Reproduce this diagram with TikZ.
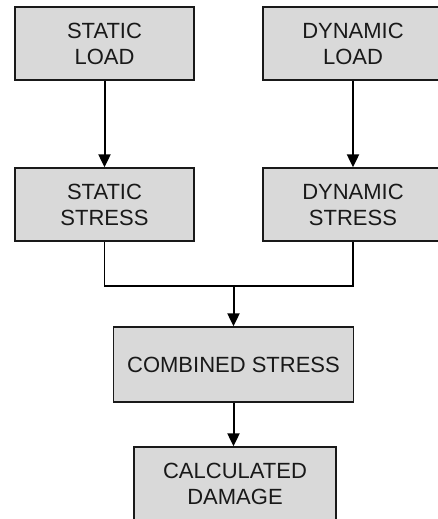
\documentclass[tikz,border=0pt]{standalone}
\usepackage{fontspec}
\setmainfont{Liberation Sans}
\usetikzlibrary{arrows.meta}
\definecolor{boxfill}{HTML}{D9D9D9}
\begin{document}
\begin{tikzpicture}[x=1pt,y=-1pt,
  blk/.style={draw=black!90, line width=1.3pt, fill=boxfill, inner sep=0pt,
    align=center, font=\fontsize{22}{26}\selectfont, text=black!90},
  arr/.style={line width=2pt, -{Triangle[length=13pt,width=12pt]}},
  link/.style={line width=1.2pt}]
\clip (0,0) rectangle (438,519);
\useasboundingbox (0,0) rectangle (438,519);
\node[blk, minimum width=179pt, minimum height=73pt] (sl) at (104.5,43.5) {STATIC\\LOAD};
\node[blk, minimum width=180pt, minimum height=73pt] (dl) at (353,43.5) {DYNAMIC\\LOAD};
\node[blk, minimum width=179pt, minimum height=73pt] (ss) at (104.5,204.5) {STATIC\\STRESS};
\node[blk, minimum width=180pt, minimum height=73pt] (ds) at (353,204.5) {DYNAMIC\\STRESS};
\node[blk, minimum width=240pt, minimum height=75pt] (cs) at (233.5,364.5) {COMBINED STRESS};
\node[blk, minimum width=202pt, minimum height=73pt] (cd) at (235,483.5) {CALCULATED\\DAMAGE};
\coordinate (j) at (233.5,286);
\draw[arr] (sl) -- (ss);
\draw[arr] (dl) -- (ds);
\draw[link] (ss.south) -- (ss.south |- j) -- (ds.south |- j) -- (ds.south);
\draw[arr] (j) -- (cs.north);
\draw[arr] (cs.south) -- (cs.south |- cd.north);
\end{tikzpicture}
\end{document}
